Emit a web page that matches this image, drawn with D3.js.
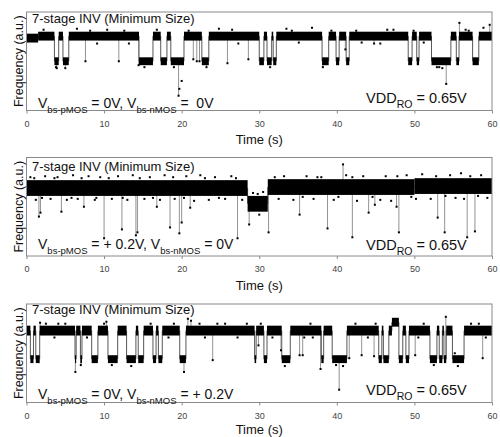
<!DOCTYPE html>
<html>
<head>
<meta charset="utf-8">
<script src="https://cdn.jsdelivr.net/npm/d3@7"></script>
<style>
  body { margin: 0; background: #fff; }
  svg { display: block; font-family: "Liberation Sans", Arial, sans-serif; }
</style>
</head>
<body>
<div id="chart"></div>
<script>
// ---- data (time in s, frequency in a.u. 0..100) ----
var timeTicks = [0, 10, 20, 30, 40, 50, 60];
var panelTitle = "7-stage INV (Minimum Size)";
var xLabel = "Time (s)";
var yLabel = "Frequency (a.u.)";

// band levels [lo, hi] of each trap state
var p1Levels = { S: [69, 78], H: [71, 80], L: [46, 54] };
var p2Levels = { A: [61, 77], L: [45, 61], B: [62, 78], C: [63, 79] };
var p3Levels = { H: [68, 78], L: [40, 48], U: [77, 86] };

// [tStart, tEnd, state]
var p1States = [
  [0, 1.5, "S"], [1.5, 3.6, "H"], [3.6, 4.15, "L"], [4.15, 4.7, "H"], [4.7, 5.45, "L"],
  [5.45, 14.5, "H"], [14.5, 16.3, "L"], [16.3, 17.3, "H"], [17.3, 18.1, "L"], [18.1, 18.6, "H"],
  [18.6, 20.3, "L"], [20.3, 22.6, "H"], [22.6, 23.5, "L"], [23.5, 30.0, "H"], [30.0, 30.6, "L"],
  [30.6, 31.0, "H"], [31.0, 31.6, "L"], [31.6, 31.8, "H"], [31.8, 32.2, "L"], [32.2, 38.1, "H"],
  [38.1, 38.95, "L"], [38.95, 39.9, "H"], [39.9, 40.3, "L"], [40.3, 41.2, "H"], [41.2, 41.6, "L"],
  [41.6, 49.2, "H"], [49.2, 49.7, "L"], [49.7, 50.3, "H"], [50.3, 50.6, "L"], [50.6, 52.2, "H"],
  [52.2, 54.7, "L"], [54.7, 55.4, "H"], [55.4, 55.75, "L"], [55.75, 57.5, "H"], [57.5, 58.3, "L"],
  [58.3, 60, "H"]
];
var p2States = [
  [0, 28.5, "A"], [28.5, 31.1, "L"], [31.1, 50, "B"], [50, 60, "C"]
];
var p3States = [
  [0, 0.5, "H"], [0.5, 0.9, "L"], [0.9, 1.2, "H"], [1.2, 1.7, "L"], [1.7, 6.25, "H"],
  [6.25, 6.4, "L"], [6.4, 6.95, "H"], [6.95, 7.15, "L"], [7.15, 8.4, "H"], [8.4, 9.2, "L"],
  [9.2, 10.5, "H"], [10.5, 11.75, "L"], [11.75, 12.9, "H"], [12.9, 14.1, "L"], [14.1, 14.4, "H"],
  [14.4, 15.1, "L"], [15.1, 16.3, "H"], [16.3, 16.7, "L"], [16.7, 17.0, "H"], [17.0, 17.5, "L"],
  [17.5, 19.75, "H"], [19.75, 20.55, "L"], [20.55, 29.4, "H"], [29.4, 29.6, "L"], [29.6, 30.6, "H"],
  [30.6, 31.0, "L"], [31.0, 32.9, "H"], [32.9, 34.0, "L"], [34.0, 38.0, "H"], [38.0, 38.3, "L"],
  [38.3, 39.4, "H"], [39.4, 41.3, "L"], [41.3, 45.4, "H"], [45.4, 45.8, "L"], [45.8, 46.0, "H"],
  [46.0, 46.7, "L"], [46.7, 47.1, "H"], [47.1, 48.0, "U"], [48.0, 48.5, "L"], [48.5, 48.9, "H"],
  [48.9, 49.3, "L"], [49.3, 52.0, "H"], [52.0, 52.9, "L"], [52.9, 53.2, "H"], [53.2, 53.6, "L"],
  [53.6, 53.8, "H"], [53.8, 54.1, "L"], [54.1, 54.9, "H"], [54.9, 56.4, "L"], [56.4, 60, "H"]
];

// single-sample glitches [t, value]
var p1Spikes = [
  [3.9, 43], [5.0, 43], [7.6, 50], [11.9, 50], [14.45, 46], [19.6, 15], [21.5, 52], [21.95, 50],
  [22.3, 50], [23.2, 44], [25.9, 48], [28.6, 52], [38.2, 44], [41.1, 62], [44.8, 68], [54.1, 27],
  [55.8, 89], [59.7, 87]
];
var p2Spikes = [
  [1.6, 40], [1.8, 44], [4.5, 45], [7.4, 50], [10.0, 18], [12.3, 27], [14.1, 21], [14.3, 24],
  [16.8, 50], [18.5, 29], [19.7, 23], [20.0, 34], [21.1, 49], [27.2, 18], [28.7, 32], [31.2, 24],
  [35.2, 42], [38.8, 28], [40.8, 93], [42.0, 19], [44.1, 44], [44.9, 52], [47.7, 50], [48.0, 24],
  [53.0, 39], [53.9, 24], [56.8, 19], [57.8, 25]
];
var p3Spikes = [
  [1.75, 81], [6.3, 31], [7.0, 38], [10.3, 82], [20.3, 31], [20.8, 85], [21.2, 83], [24.0, 43],
  [29.9, 58], [32.8, 53], [35.2, 48], [35.6, 48], [37.9, 34], [40.3, 13], [41.6, 45], [43.2, 48],
  [44.8, 47], [50.1, 48], [54.05, 87], [58.8, 45]
];

// scattered outlier samples [t, value]
var p1Dots = [
  [2.2, 82], [6.5, 83], [9.1, 68], [10.4, 82], [13.2, 68], [16.8, 82], [24.8, 83], [27.3, 68],
  [33.5, 83], [35.1, 69], [36.8, 84], [43.2, 69], [45.6, 68], [47.3, 82], [51.2, 69], [53.2, 44],
  [53.6, 43], [56.6, 82], [58.9, 84], [3.8, 44], [15.2, 44], [19.0, 44], [20.0, 30], [19.7, 22],
  [8.2, 81], [12.6, 81], [20.9, 81], [26.5, 82], [31.4, 44], [34.2, 81], [39.3, 81], [42.5, 81],
  [46.5, 82], [49.9, 81], [52.9, 44], [57.0, 81]
];
var p2Dots = [
  [0.5, 80], [1.2, 57], [2.4, 81], [3.1, 58], [4.0, 80], [5.2, 57], [6.0, 82], [6.6, 58],
  [8.0, 81], [8.8, 57], [9.5, 80], [11.0, 58], [11.8, 81], [13.0, 57], [13.7, 82], [15.2, 58],
  [15.9, 80], [17.2, 57], [17.8, 82], [19.1, 58], [20.6, 81], [21.6, 56], [22.4, 82], [23.5, 57],
  [24.3, 80], [25.6, 58], [26.4, 81], [27.8, 57], [29.2, 64], [30.0, 42], [30.5, 65], [32.5, 58],
  [33.2, 81], [34.4, 57], [36.1, 81], [37.0, 58], [38.0, 80], [39.6, 57], [41.2, 82], [42.6, 56],
  [43.4, 81], [45.6, 57], [46.3, 81], [47.0, 56], [49.0, 82], [50.2, 58], [51.0, 83], [52.1, 58],
  [54.6, 82], [55.3, 59], [56.0, 84], [56.4, 58], [58.6, 82], [59.4, 59],
  [1.0, 79], [2.0, 59], [3.6, 79], [5.8, 59], [7.1, 79], [9.0, 59], [10.6, 79], [12.4, 59],
  [14.6, 79], [16.3, 59], [18.9, 80], [20.3, 59], [23.0, 79], [24.8, 59], [27.0, 79], [29.8, 63],
  [32.0, 80], [35.6, 60], [37.5, 80], [40.2, 60], [42.0, 80], [44.6, 60], [47.8, 81], [49.6, 60],
  [52.8, 81], [54.0, 61], [57.2, 81], [58.2, 61]
];
var p3Dots = [
  [2.5, 80], [3.6, 66], [5.0, 80], [7.8, 66], [10.0, 80], [13.5, 37], [16.0, 80], [18.3, 66],
  [22.3, 80], [23.0, 66], [25.6, 80], [27.2, 66], [28.4, 80], [31.7, 66], [33.3, 37], [35.8, 66],
  [36.6, 80], [40.8, 37], [42.4, 80], [44.0, 66], [50.5, 66], [51.2, 80], [55.6, 37], [57.3, 80],
  [59.2, 66], [4.1, 80], [11.0, 38], [19.0, 80], [24.6, 80], [30.2, 80], [36.9, 66], [39.9, 38],
  [45.0, 80], [52.5, 38], [55.2, 50], [58.3, 80]
];

// bias condition labels: [text, isSubscript]
var condLabels = [
  [["V"], ["bs-pMOS", 1], [" = 0V, V"], ["bs-nMOS", 1], [" =  0V"]],
  [["V"], ["bs-pMOS", 1], [" = + 0.2V, V"], ["bs-nMOS", 1], [" = 0V"]],
  [["V"], ["bs-pMOS", 1], [" = 0V, V"], ["bs-nMOS", 1], [" = + 0.2V"]]
];
var vddLabel = [["VDD"], ["RO", 1], [" = 0.65V"]];

var panels = [
  { levels: p1Levels, states: p1States, spikes: p1Spikes, dots: p1Dots, cond: condLabels[0] },
  { levels: p2Levels, states: p2States, spikes: p2Spikes, dots: p2Dots, cond: condLabels[1] },
  { levels: p3Levels, states: p3States, spikes: p3Spikes, dots: p3Dots, cond: condLabels[2] }
];

// ---- layout ----
var width = 500, height = 437;
var plotLeft = 26.5, plotRight = 492;
var panelTops = [12, 157.5, 304];
var panelH = 98.5;
var titleY = [23.3, 171, 313.7];
var condY = [108.3, 249, 399.3];
var vddY = [102.7, 250, 395.3];
var timeLabelY = [143.5, 289.5, 434];

var svg = d3.select("#chart")
  .append("svg")
  .attr("width", width)
  .attr("height", height);

var x = d3.scaleLinear().domain([0, 60]).range([plotLeft, plotRight]);

function addRichText(g, parts, px, py, size, subSize) {
  var t = g.append("text")
    .attr("x", px)
    .attr("y", py)
    .attr("font-size", size)
    .attr("fill", "#111")
    .style("white-space", "pre");
  var shifted = false;
  parts.forEach(function(p) {
    var ts = t.append("tspan").text(p[0]);
    if (p[1]) {
      ts.attr("font-size", subSize).attr("dy", 5);
      shifted = true;
    } else if (shifted) {
      ts.attr("dy", -5);
      shifted = false;
    }
  });
  return t;
}

panels.forEach(function(panel, i) {
  var top = panelTops[i];
  var y = d3.scaleLinear().domain([0, 100]).range([top + panelH, top]);
  var g = svg.append("g");

  function levelAt(t) {
    for (var k = 0; k < panel.states.length; k += 1) {
      var s = panel.states[k];
      if (t >= s[0] && t <= s[1]) {
        var lv = panel.levels[s[2]];
        return (lv[0] + lv[1]) / 2;
      }
    }
    return 70;
  }

  // transitions between states
  for (var k = 0; k < panel.states.length - 1; k += 1) {
    var a = panel.levels[panel.states[k][2]];
    var b = panel.levels[panel.states[k + 1][2]];
    g.append("line")
      .attr("x1", x(panel.states[k][1]))
      .attr("x2", x(panel.states[k][1]))
      .attr("y1", y((a[0] + a[1]) / 2))
      .attr("y2", y((b[0] + b[1]) / 2))
      .attr("stroke", "#444")
      .attr("stroke-width", 0.9);
  }

  // glitches
  g.selectAll(".spike")
    .data(panel.spikes)
    .enter()
    .append("line")
    .attr("x1", function(d) { return x(d[0]); })
    .attr("x2", function(d) { return x(d[0]); })
    .attr("y1", function(d) { return y(levelAt(d[0])); })
    .attr("y2", function(d) { return y(d[1]); })
    .attr("stroke", "#777")
    .attr("stroke-width", 0.8);

  // dense noise bands
  g.selectAll(".band")
    .data(panel.states)
    .enter()
    .append("rect")
    .attr("x", function(d) { return x(d[0]); })
    .attr("width", function(d) { return Math.max(0.8, x(d[1]) - x(d[0])); })
    .attr("y", function(d) { return y(panel.levels[d[2]][1]); })
    .attr("height", function(d) { return y(panel.levels[d[2]][0]) - y(panel.levels[d[2]][1]); })
    .attr("fill", "#000");

  // sample markers at spike tips and outliers
  g.selectAll(".tip")
    .data(panel.spikes.concat(panel.dots))
    .enter()
    .append("rect")
    .attr("x", function(d) { return x(d[0]) - 1; })
    .attr("y", function(d) { return y(d[1]) - 1; })
    .attr("width", 2)
    .attr("height", 2)
    .attr("fill", "#000");

  // frame
  g.append("rect")
    .attr("x", plotLeft)
    .attr("y", top)
    .attr("width", plotRight - plotLeft)
    .attr("height", panelH)
    .attr("fill", "none")
    .attr("stroke", "#8a8a8a")
    .attr("stroke-width", 1);

  // x axis
  var ax = g.append("g")
    .attr("transform", "translate(0," + (top + panelH) + ")")
    .call(d3.axisBottom(x).tickValues(timeTicks).tickSize(3).tickPadding(7).tickFormat(d3.format("d")));
  ax.select(".domain").remove();
  ax.selectAll("line").attr("stroke", "#8a8a8a");
  ax.selectAll("text").attr("font-size", 9).attr("fill", "#444").attr("font-family", "Liberation Sans, Arial, sans-serif");

  g.append("text")
    .attr("x", (plotLeft + plotRight) / 2)
    .attr("y", timeLabelY[i])
    .attr("text-anchor", "middle")
    .attr("font-size", 13)
    .attr("fill", "#111")
    .text(xLabel);

  g.append("text")
    .attr("transform", "translate(22.5," + (top + panelH / 2) + ") rotate(-90)")
    .attr("text-anchor", "middle")
    .attr("font-size", 12.5)
    .attr("fill", "#111")
    .text(yLabel);

  // labels inside the frame
  g.append("text")
    .attr("x", plotLeft + 5.5)
    .attr("y", titleY[i])
    .attr("font-size", 13)
    .attr("fill", "#111")
    .text(panelTitle);

  addRichText(g, panel.cond, 38, condY[i], 14, 9.5);
  addRichText(g, vddLabel, 366, vddY[i], 14.5, 10.5);
});
</script>
</body>
</html>
